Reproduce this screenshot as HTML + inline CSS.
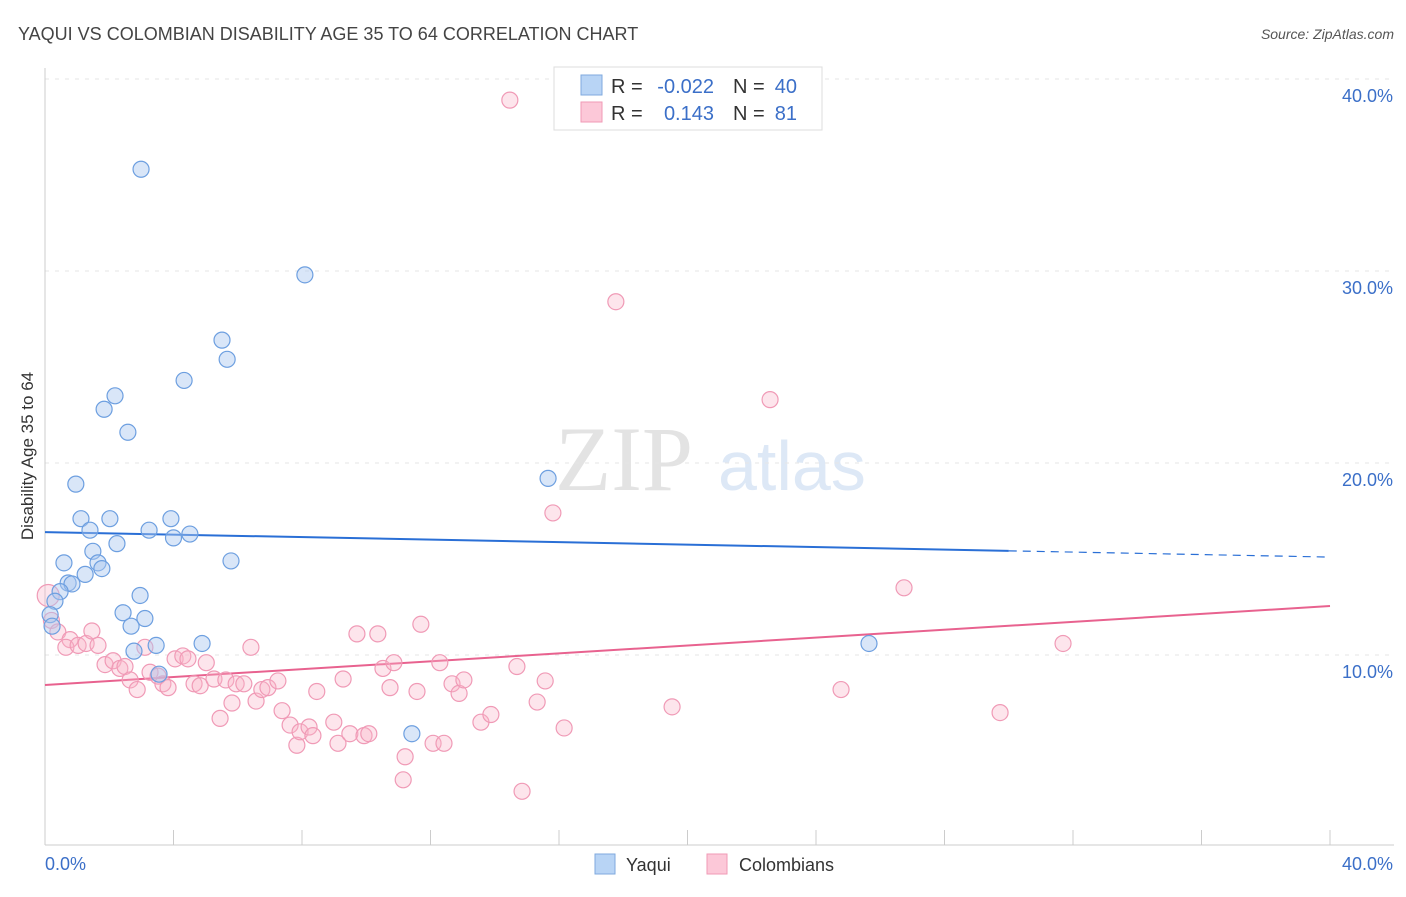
<!DOCTYPE html>
<html><head><meta charset="utf-8"><style>
body{margin:0;background:#fff;font-family:"Liberation Sans",sans-serif;}
</style></head><body>
<svg id="chart" width="1406" height="892" xmlns="http://www.w3.org/2000/svg" font-family="Liberation Sans, sans-serif">
<text x="18" y="40" font-size="18" fill="#444">YAQUI VS COLOMBIAN DISABILITY AGE 35 TO 64 CORRELATION CHART</text>
<text x="1394" y="39" font-size="14" fill="#555" font-style="italic" text-anchor="end">Source: ZipAtlas.com</text>
<text transform="translate(33,456) rotate(-90)" font-size="17" fill="#333" text-anchor="middle">Disability Age 35 to 64</text>
<g>
<text x="555" y="490" font-size="92" fill="#e3e3e3" font-family="Liberation Serif, serif">ZIP</text>
<text x="718" y="490" font-size="70" fill="#dde8f6">atlas</text>
</g>
<g id="grid"></g><g id="axes"></g><g id="trends"></g><g id="pts"></g>
<g>
<rect x="554" y="67" width="268" height="63" fill="#fff" stroke="#ddd"/>
<rect x="581" y="75" width="21" height="20" fill="#b8d4f5" stroke="#7fa9de"/>
<rect x="581" y="102" width="21" height="20" fill="#fcc8d8" stroke="#f09ab6"/>
<text x="611" y="93" font-size="20" fill="#333">R =</text>
<text x="714" y="93" font-size="20" fill="#3b6fc8" text-anchor="end">-0.022</text>
<text x="733" y="93" font-size="20" fill="#333">N =</text>
<text x="797" y="93" font-size="20" fill="#3b6fc8" text-anchor="end">40</text>
<text x="611" y="120" font-size="20" fill="#333">R =</text>
<text x="714" y="120" font-size="20" fill="#3b6fc8" text-anchor="end">0.143</text>
<text x="733" y="120" font-size="20" fill="#333">N =</text>
<text x="797" y="120" font-size="20" fill="#3b6fc8" text-anchor="end">81</text>
</g>
<g>
<rect x="595" y="854" width="20" height="20" fill="#b8d4f5" stroke="#7fa9de"/>
<text x="626" y="871" font-size="18" fill="#333">Yaqui</text>
<rect x="707" y="854" width="20" height="20" fill="#fcc8d8" stroke="#f09ab6"/>
<text x="739" y="871" font-size="18" fill="#333">Colombians</text>
</g>
</svg>
<script>
const yTicks=[10,20,30,40];
const yTickLabels=["10.0%","20.0%","30.0%","40.0%"];
const xTickLabels=["0.0%","40.0%"];
const yaquiX=[2.99,8.09,5.51,5.67,4.33,2.18,1.84,2.58,0.96,15.66,1.12,2.02,3.92,1.40,3.24,4.0,4.51,2.24,1.49,0.59,5.79,1.65,1.77,1.25,0.72,0.84,0.47,2.96,0.31,2.43,0.16,3.11,2.68,0.22,4.89,3.46,2.77,25.65,3.55,11.42];
const yaquiY=[35.3,29.8,26.4,25.4,24.3,23.5,22.8,21.6,18.9,19.2,17.1,17.1,17.1,16.5,16.5,16.1,16.3,15.8,15.4,14.8,14.9,14.8,14.5,14.2,13.75,13.7,13.3,13.1,12.8,12.2,12.1,11.9,11.5,11.5,10.6,10.5,10.2,10.6,9.0,5.9];
const colX=[14.47,17.77,22.57,15.81,26.74,31.69,0.1,0.2,0.4,0.78,0.65,1.03,1.28,1.46,1.65,1.87,2.12,2.33,2.49,2.65,2.87,3.11,3.27,3.52,3.67,3.83,4.05,4.29,4.45,4.64,4.83,5.02,5.26,5.45,5.63,5.82,5.95,6.19,6.41,6.57,6.75,6.94,7.25,7.38,7.63,7.84,7.94,8.22,8.34,8.46,8.99,9.12,9.28,9.49,9.71,9.93,10.08,10.36,10.52,10.74,10.86,11.21,11.15,11.58,11.7,12.08,12.29,12.42,12.67,12.89,13.04,13.57,13.88,14.69,14.85,15.32,15.57,16.16,19.52,24.78,29.73];
const colY=[38.9,28.4,23.3,17.4,13.5,10.6,13.1,11.8,11.2,10.8,10.4,10.5,10.6,11.25,10.5,9.5,9.7,9.3,9.4,8.7,8.2,10.4,9.1,8.9,8.5,8.3,9.8,9.95,9.8,8.5,8.4,9.6,8.75,6.7,8.7,7.5,8.5,8.5,10.4,7.6,8.2,8.3,8.65,7.1,6.35,5.3,6.0,6.25,5.8,8.1,6.5,5.4,8.75,5.9,11.1,5.8,5.9,11.1,9.3,8.3,9.6,4.7,3.5,8.1,11.6,5.4,9.6,5.4,8.5,8.0,8.7,6.5,6.9,9.4,2.9,7.55,8.65,6.2,7.3,8.2,7.0];
const yaquiTrend=[16.4,15.1];
const colTrend=[8.44,12.55];
const NS="http://www.w3.org/2000/svg";
const X=v=>45+v*32.125, Y=v=>847-v*19.2;
function mk(t,a,p){const e=document.createElementNS(NS,t);for(const k in a)e.setAttribute(k,a[k]);p.appendChild(e);return e;}
const grid=document.getElementById('grid'),axes=document.getElementById('axes');
yTicks.forEach((t,i)=>{
 const l=mk('line',{x1:45,x2:1394,y1:Y(t),y2:Y(t),stroke:'#e6e6e6','stroke-dasharray':'4,6'},grid);
 
 
 const tx=mk('text',{x:1393,y:Y(t)+23,'font-size':18,fill:'#3b6fc8','text-anchor':'end'},axes);
 tx.textContent=yTickLabels[i];
 
 
});
const ax=mk('line',{x1:45,x2:1394,y1:845,y2:845,stroke:'#ccc'},axes);


const ay=mk('line',{x1:45,x2:45,y1:68,y2:845,stroke:'#ccc'},axes);


for(let i=0;i<=10;i++){const t=mk('line',{x1:X(i*4),x2:X(i*4),y1:830,y2:845,stroke:'#ccc'},axes);
 
 }
[[0,45,'start'],[40,1393,'end']].forEach((d,i)=>{const t=mk('text',{x:d[1],y:870,'font-size':18,fill:'#3b6fc8','text-anchor':d[2]},axes);t.textContent=xTickLabels[i];
 
 });
const tr=document.getElementById('trends');
const ys=v=>yaquiTrend[0]+(yaquiTrend[1]-yaquiTrend[0])*v/40;
let l1=mk('line',{x1:X(0),y1:Y(ys(0)),x2:X(30),y2:Y(ys(30)),stroke:'#2a6fd6','stroke-width':2},tr);


let l2=mk('line',{x1:X(30),y1:Y(ys(30)),x2:X(40),y2:Y(ys(40)),stroke:'#2a6fd6','stroke-width':1.2,'stroke-dasharray':'8,6'},tr);


let l3=mk('line',{x1:X(0),y1:Y(colTrend[0]),x2:X(40),y2:Y(colTrend[1]),stroke:'#e8628f','stroke-width':2},tr);


const pts=document.getElementById('pts');
colX.forEach((x,i)=>{const c=mk('circle',{cx:X(x),cy:Y(colY[i]),r:i==6?11:8,fill:'rgba(248,180,200,0.35)',stroke:'#f09ab6','stroke-width':1.2},pts);
 
 });
yaquiX.forEach((x,i)=>{const c=mk('circle',{cx:X(x),cy:Y(yaquiY[i]),r:8,fill:'rgba(170,200,240,0.45)',stroke:'#6d9fe0','stroke-width':1.2},pts);
 
 });
</script>
</body></html>
